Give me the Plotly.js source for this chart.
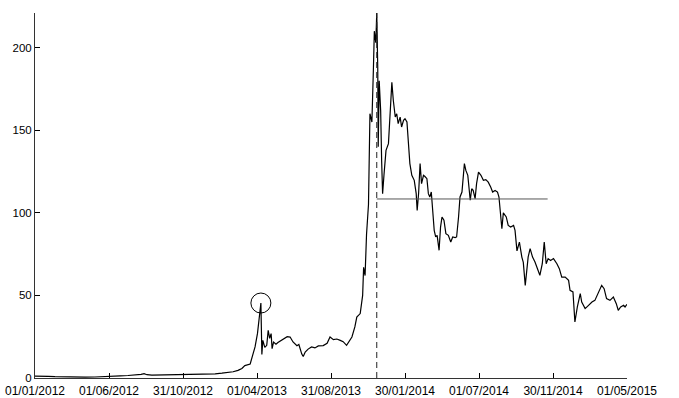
<!DOCTYPE html>
<html>
<head>
<meta charset="utf-8">
<script src="https://cdn.plot.ly/plotly-3.0.1.min.js"></script>
<style>
  html, body { margin: 0; padding: 0; background: #fff; }
  #chart { width: 679px; height: 398px; }
</style>
</head>
<body>
<div id="chart"></div>
<script>
// Daily closing series, sampled
const dates = [
  '2012-01-01','2012-01-11','2012-01-28','2012-02-11','2012-03-03','2012-03-23','2012-04-13','2012-05-03',
  '2012-05-24','2012-06-07','2012-06-24','2012-07-10','2012-07-24','2012-08-06','2012-08-12','2012-08-18',
  '2012-08-28','2012-09-14','2012-10-04','2012-10-25','2012-11-04','2012-11-19','2012-12-05','2012-12-21',
  '2013-01-05','2013-01-19','2013-02-01','2013-02-11','2013-02-21','2013-03-01','2013-03-07','2013-03-14',
  '2013-03-18','2013-03-23','2013-03-28','2013-04-02','2013-04-06','2013-04-09','2013-04-11','2013-04-13',
  '2013-04-17','2013-04-21','2013-04-24','2013-04-27','2013-04-30','2013-05-02','2013-05-05','2013-05-10',
  '2013-05-14','2013-05-20','2013-05-25','2013-06-02','2013-06-08','2013-06-14','2013-06-22','2013-06-26',
  '2013-07-02','2013-07-05','2013-07-09','2013-07-15','2013-07-22','2013-07-29','2013-08-05','2013-08-15',
  '2013-08-23','2013-08-29','2013-09-05','2013-09-12','2013-09-19','2013-09-25','2013-10-02','2013-10-07',
  '2013-10-13','2013-10-19','2013-10-23','2013-10-30','2013-11-02','2013-11-04','2013-11-06','2013-11-09',
  '2013-11-12','2013-11-16','2013-11-19','2013-11-23','2013-11-26','2013-11-28','2013-12-01','2013-12-03',
  '2013-12-05','2013-12-06','2013-12-08','2013-12-11','2013-12-13','2013-12-15','2013-12-18','2013-12-22',
  '2013-12-27','2013-12-30','2014-01-03','2014-01-06','2014-01-10','2014-01-13','2014-01-16','2014-01-20',
  '2014-01-23','2014-01-27','2014-01-30','2014-02-03','2014-02-06','2014-02-09','2014-02-13','2014-02-18',
  '2014-02-22','2014-02-24','2014-02-27','2014-03-02','2014-03-05','2014-03-09','2014-03-12','2014-03-16',
  '2014-03-19','2014-03-22','2014-03-25','2014-03-28','2014-03-31','2014-04-03','2014-04-06','2014-04-10',
  '2014-04-13','2014-04-16','2014-04-20','2014-04-24','2014-04-29','2014-05-04','2014-05-08','2014-05-13',
  '2014-05-16','2014-05-20','2014-05-23','2014-05-27','2014-05-30','2014-06-01','2014-06-04','2014-06-08',
  '2014-06-13','2014-06-16','2014-06-19','2014-06-23','2014-06-26','2014-06-30','2014-07-05','2014-07-10',
  '2014-07-15','2014-07-20','2014-07-25','2014-07-29','2014-08-03','2014-08-08','2014-08-11','2014-08-13',
  '2014-08-17','2014-08-20','2014-08-26','2014-08-30','2014-09-04','2014-09-10','2014-09-13','2014-09-17',
  '2014-09-22','2014-09-27','2014-09-30','2014-10-04','2014-10-07','2014-10-10','2014-10-14','2014-10-19',
  '2014-10-24','2014-10-31','2014-11-03','2014-11-08','2014-11-12','2014-11-16','2014-11-20','2014-11-25',
  '2014-12-01','2014-12-08','2014-12-13','2014-12-18','2014-12-25','2015-01-01','2015-01-04','2015-01-10',
  '2015-01-14','2015-01-19','2015-01-25','2015-01-28','2015-02-04','2015-02-11','2015-02-18','2015-02-24',
  '2015-03-03','2015-03-10','2015-03-15','2015-03-20','2015-03-27','2015-04-03','2015-04-09','2015-04-13',
  '2015-04-18','2015-04-24','2015-04-27','2015-05-01'
];

const prices = [
  1.1, 0.9, 1.0, 0.8, 0.6, 0.5, 0.5, 0.6,
  0.7, 0.9, 1.3, 1.5, 1.7, 2.2, 2.6, 2.0,
  1.7, 1.8, 1.9, 2.0, 1.7, 1.9, 2.0, 2.2,
  2.5, 2.9, 3.3, 3.8, 4.6, 5.8, 7.5, 8.0,
  8.5, 13.7, 18.8, 27.0, 38.0, 45.4, 14.3, 22.8,
  18.5, 19.8, 28.9, 24.0, 26.9, 17.8, 21.8, 20.5,
  21.5, 22.5, 23.8, 25.0, 24.8, 21.8, 19.5, 20.3,
  14.5, 13.0, 15.7, 17.5, 18.8, 18.2, 19.4, 19.6,
  21.0, 24.8, 23.2, 23.6, 22.8, 22.0, 19.8, 22.0,
  24.8, 30.9, 36.9, 39.0, 45.0, 50.0, 67.0, 62.0,
  87.0, 105.0, 160.0, 155.0, 186.0, 210.0, 203.0, 221.0,
  188.0, 140.0, 180.0, 162.0, 131.8, 111.6, 123.7, 137.8,
  141.9, 156.0, 179.0, 168.0, 158.0, 160.0, 154.0, 158.0,
  152.0, 156.0, 157.0, 155.0, 144.0, 129.8, 122.7, 119.7,
  111.6, 101.4, 112.0, 129.8, 117.7, 122.7, 122.0, 120.7,
  111.6, 109.6, 112.6, 101.5, 89.4, 85.4, 86.4, 77.3,
  91.4, 97.5, 95.5, 87.4, 86.4, 82.3, 85.4, 85.0,
  85.4, 97.5, 109.6, 112.6, 125.7, 129.8, 125.7, 122.7,
  107.6, 114.6, 113.6, 108.6, 117.7, 124.7, 122.7, 119.7,
  120.1, 118.6, 115.6, 112.6, 113.6, 112.6, 109.6, 101.5,
  90.4, 100.0, 97.5, 92.4, 91.4, 92.4, 89.4, 77.0,
  82.3, 73.2, 70.0, 56.1, 66.5, 73.3, 78.3, 73.2,
  70.2, 64.2, 62.2, 69.2, 82.3, 69.2, 72.3, 71.2,
  72.3, 69.2, 66.2, 61.1, 61.1, 59.1, 53.1, 52.1,
  33.9, 43.0, 51.1, 46.0, 42.0, 44.0, 46.0, 47.0,
  51.1, 56.1, 54.1, 48.1, 47.0, 49.0, 45.0, 41.0,
  43.0, 44.0, 43.0, 44.6
];

// Axis ticks (every 152 days)
const tickDates = ['2012-01-01','2012-06-01','2012-10-31','2013-04-01','2013-08-31','2014-01-30','2014-07-01','2014-11-30','2015-05-01'];
const tickLabels = ['01/01/2012','01/06/2012','31/10/2012','01/04/2013','31/08/2013','30/01/2014','01/07/2014','30/11/2014','01/05/2015'];
const yTicks = [0, 50, 100, 150, 200];

// Annotated features
const spikeDate = '2013-04-09';     // circled April 2013 spike
const levelValue = 108.4;           // horizontal level after the all-time high
const levelEnd = '2014-11-19';

// Derived anchor points
const peakIdx = prices.indexOf(Math.max(...prices));
const peakDate = dates[peakIdx];
const peakValue = prices[peakIdx];
const spikeValue = prices[dates.indexOf(spikeDate)];

const font = { family: 'Liberation Sans, Arial, sans-serif', size: 12, color: '#000' };

const trace = {
  x: dates,
  y: prices,
  type: 'scatter',
  mode: 'lines',
  line: { color: '#000', width: 1.2 },
  hoverinfo: 'skip'
};

const layout = {
  width: 679,
  height: 398,
  margin: { l: 35, r: 52, t: 13, b: 20, pad: 0 },
  paper_bgcolor: '#fff',
  plot_bgcolor: '#fff',
  showlegend: false,
  font: font,
  xaxis: {
    type: 'date',
    range: [dates[0], dates[dates.length - 1]],
    tickmode: 'array',
    tickvals: tickDates,
    ticktext: tickLabels,
    ticks: 'inside',
    ticklen: 5,
    tickcolor: '#000',
    tickwidth: 1,
    ticklabelstandoff: 2,
    showline: true,
    linecolor: '#333',
    linewidth: 1,
    showgrid: false,
    zeroline: false,
    tickfont: font,
    automargin: false
  },
  yaxis: {
    range: [0, peakValue],
    tickmode: 'array',
    tickvals: yTicks,
    ticktext: yTicks.map(String),
    ticks: 'inside',
    ticklen: 5,
    tickcolor: '#000',
    tickwidth: 1,
    showline: true,
    linecolor: '#333',
    linewidth: 1,
    showgrid: false,
    zeroline: false,
    tickfont: { family: font.family, size: 11.5, color: '#000' },
    automargin: false
  },
  shapes: [
    {
      type: 'line', xref: 'x', yref: 'y',
      x0: peakDate, x1: peakDate, y0: 0, y1: peakValue,
      line: { color: '#222', width: 1, dash: '6px,4px' }
    },
    {
      type: 'line', xref: 'x', yref: 'y',
      x0: peakDate, x1: levelEnd, y0: levelValue, y1: levelValue,
      line: { color: '#555', width: 1 }
    },
    {
      type: 'circle', xref: 'x', yref: 'y',
      xsizemode: 'pixel', ysizemode: 'pixel',
      xanchor: spikeDate, yanchor: spikeValue,
      x0: -10, x1: 10, y0: -10, y1: 10,
      line: { color: '#000', width: 1 }
    }
  ]
};

Plotly.newPlot('chart', [trace], layout, { displayModeBar: false, staticPlot: true });
</script>
</body>
</html>
